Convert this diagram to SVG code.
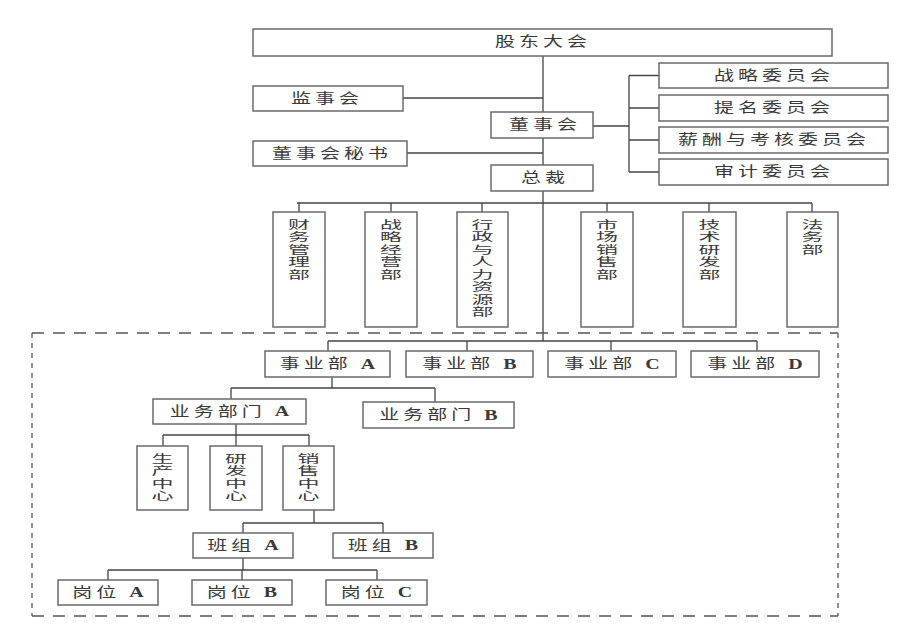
<svg xmlns="http://www.w3.org/2000/svg" width="908" height="636" viewBox="0 0 908 636">
<style>
rect.b{fill:#fff;stroke:#6a6a6a;stroke-width:1.5}
.ln{stroke:#444;stroke-width:1.3;fill:none}
.dh{stroke:#555;stroke-width:1.3;stroke-dasharray:12 9;fill:none}
.dv{stroke:#555;stroke-width:1.3;stroke-dasharray:5 5;fill:none}
text{font-family:"Liberation Serif","Noto Sans CJK SC",serif;fill:#3a3a3a;text-anchor:middle;dominant-baseline:central}
text.h{font-size:20px;letter-spacing:4px}
text.v{font-size:22px}
tspan.l{font-weight:bold}
</style>
<rect width="908" height="636" fill="#fff"/>
<g id="connectors">
<path class="ln" d="M543,56V112M543,138V165M543,191V341"/>
<path class="ln" d="M403,98H543M407,153H543"/>
<path class="ln" d="M593,126H629M629,75.5V172M629,75.5H659M629,108H659M629,140H659M629,172H659"/>
<path class="ln" d="M297,203H812M299,203V212M391,203V212M482,203V212M607,203V212M709,203V212M812,203V212"/>
<path class="ln" d="M328,341H757M328,341V351M467,341V351M611,341V351M757,341V351"/>
<path class="ln" d="M332,377V388M231,388H435M231,388V399M435,388V402"/>
<path class="ln" d="M236,424V435M163,435H309M163,435V446M236,435V446M309,435V446"/>
<path class="ln" d="M314,510V523M243,523H383M243,523V533M383,523V533"/>
<path class="ln" d="M243,558V570M108,570H377M108,570V580M242,570V580M377,570V580"/>
</g>
<g id="dashed-frame">
<path class="dh" d="M32,333H838M32,616H838"/>
<path class="dv" d="M32,333V616M838,333V616"/>
</g>
<g id="gudongdahui"><rect class="b" x="253" y="29" width="579" height="27"/><text class="h" transform="translate(541,42) scale(1,0.7)" x="2">股东大会</text></g>
<g id="jianshihui"><rect class="b" x="253" y="86" width="150" height="25"/><text class="h" transform="translate(325,98.5) scale(1,0.7)" x="2">监事会</text></g>
<g id="dongshihui"><rect class="b" x="491" y="112" width="102" height="26"/><text class="h" transform="translate(543,125) scale(1,0.7)" x="2">董事会</text></g>
<g id="mishu"><rect class="b" x="253" y="141" width="154" height="25"/><text class="h" transform="translate(330,153.5) scale(1,0.7)" x="2">董事会秘书</text></g>
<g id="zongcai"><rect class="b" x="491" y="165" width="102" height="26"/><text class="h" transform="translate(543,178) scale(1,0.7)" x="2">总裁</text></g>
<g id="c1"><rect class="b" x="659" y="63" width="229" height="25"/><text class="h" transform="translate(772,75.5) scale(1,0.7)" x="2">战略委员会</text></g>
<g id="c2"><rect class="b" x="659" y="95" width="229" height="26"/><text class="h" transform="translate(772,108) scale(1,0.7)" x="2">提名委员会</text></g>
<g id="c3"><rect class="b" x="659" y="127" width="229" height="26"/><text class="h" transform="translate(772,140) scale(1,0.7)" x="2">薪酬与考核委员会</text></g>
<g id="c4"><rect class="b" x="659" y="159" width="229" height="26"/><text class="h" transform="translate(772,172) scale(1,0.7)" x="2">审计委员会</text></g>
<g id="d1"><rect class="b" x="273" y="212" width="52" height="115"/><text class="v" transform="translate(299,225) scale(1,0.5)"><tspan x="0" y="0">财</tspan><tspan x="0" dy="25">务</tspan><tspan x="0" dy="25">管</tspan><tspan x="0" dy="25">理</tspan><tspan x="0" dy="25">部</tspan></text></g>
<g id="d2"><rect class="b" x="365" y="212" width="52" height="115"/><text class="v" transform="translate(391,225) scale(1,0.5)"><tspan x="0" y="0">战</tspan><tspan x="0" dy="25">略</tspan><tspan x="0" dy="25">经</tspan><tspan x="0" dy="25">营</tspan><tspan x="0" dy="25">部</tspan></text></g>
<g id="d3"><rect class="b" x="457" y="212" width="51" height="115"/><text class="v" transform="translate(482.5,225) scale(1,0.5)"><tspan x="0" y="0">行</tspan><tspan x="0" dy="25">政</tspan><tspan x="0" dy="25">与</tspan><tspan x="0" dy="25">人</tspan><tspan x="0" dy="25">力</tspan><tspan x="0" dy="25">资</tspan><tspan x="0" dy="25">源</tspan><tspan x="0" dy="25">部</tspan></text></g>
<g id="d4"><rect class="b" x="581" y="212" width="52" height="115"/><text class="v" transform="translate(607,225) scale(1,0.5)"><tspan x="0" y="0">市</tspan><tspan x="0" dy="25">场</tspan><tspan x="0" dy="25">销</tspan><tspan x="0" dy="25">售</tspan><tspan x="0" dy="25">部</tspan></text></g>
<g id="d5"><rect class="b" x="683" y="212" width="53" height="115"/><text class="v" transform="translate(709.5,225) scale(1,0.5)"><tspan x="0" y="0">技</tspan><tspan x="0" dy="25">术</tspan><tspan x="0" dy="25">研</tspan><tspan x="0" dy="25">发</tspan><tspan x="0" dy="25">部</tspan></text></g>
<g id="d6"><rect class="b" x="787" y="212" width="51" height="115"/><text class="v" transform="translate(812.5,225) scale(1,0.5)"><tspan x="0" y="0">法</tspan><tspan x="0" dy="25">务</tspan><tspan x="0" dy="25">部</tspan></text></g>
<g id="syb-a"><rect class="b" x="265" y="351" width="125" height="26"/><text class="h" transform="translate(327.5,364) scale(1,0.7)" x="2">事业部 <tspan class="l">A</tspan></text></g>
<g id="syb-b"><rect class="b" x="406" y="351" width="127" height="26"/><text class="h" transform="translate(469.5,364) scale(1,0.7)" x="2">事业部 <tspan class="l">B</tspan></text></g>
<g id="syb-c"><rect class="b" x="548" y="351" width="128" height="26"/><text class="h" transform="translate(612,364) scale(1,0.7)" x="2">事业部 <tspan class="l">C</tspan></text></g>
<g id="syb-d"><rect class="b" x="691" y="351" width="128" height="26"/><text class="h" transform="translate(755,364) scale(1,0.7)" x="2">事业部 <tspan class="l">D</tspan></text></g>
<g id="ywbm-a"><rect class="b" x="153" y="399" width="153" height="25"/><text class="h" transform="translate(229.5,411.5) scale(1,0.7)" x="2">业务部门 <tspan class="l">A</tspan></text></g>
<g id="ywbm-b"><rect class="b" x="363" y="402" width="151" height="26"/><text class="h" transform="translate(438.5,415) scale(1,0.7)" x="2">业务部门 <tspan class="l">B</tspan></text></g>
<g id="sc"><rect class="b" x="137" y="446" width="51" height="64"/><text class="v" transform="translate(162.5,459) scale(1,0.5)"><tspan x="0" y="0">生</tspan><tspan x="0" dy="25">产</tspan><tspan x="0" dy="25">中</tspan><tspan x="0" dy="25">心</tspan></text></g>
<g id="yf"><rect class="b" x="210" y="446" width="52" height="64"/><text class="v" transform="translate(236,459) scale(1,0.5)"><tspan x="0" y="0">研</tspan><tspan x="0" dy="25">发</tspan><tspan x="0" dy="25">中</tspan><tspan x="0" dy="25">心</tspan></text></g>
<g id="xs"><rect class="b" x="283" y="446" width="51" height="64"/><text class="v" transform="translate(308.5,459) scale(1,0.5)"><tspan x="0" y="0">销</tspan><tspan x="0" dy="25">售</tspan><tspan x="0" dy="25">中</tspan><tspan x="0" dy="25">心</tspan></text></g>
<g id="bz-a"><rect class="b" x="193" y="533" width="100" height="25"/><text class="h" transform="translate(243,545.5) scale(1,0.7)" x="2">班组 <tspan class="l">A</tspan></text></g>
<g id="bz-b"><rect class="b" x="333" y="533" width="100" height="25"/><text class="h" transform="translate(383,545.5) scale(1,0.7)" x="2">班组 <tspan class="l">B</tspan></text></g>
<g id="gw-a"><rect class="b" x="58" y="580" width="100" height="25"/><text class="h" transform="translate(108,592.5) scale(1,0.7)" x="2">岗位 <tspan class="l">A</tspan></text></g>
<g id="gw-b"><rect class="b" x="192" y="580" width="100" height="25"/><text class="h" transform="translate(242,592.5) scale(1,0.7)" x="2">岗位 <tspan class="l">B</tspan></text></g>
<g id="gw-c"><rect class="b" x="326" y="580" width="101" height="25"/><text class="h" transform="translate(376.5,592.5) scale(1,0.7)" x="2">岗位 <tspan class="l">C</tspan></text></g>
</svg>
